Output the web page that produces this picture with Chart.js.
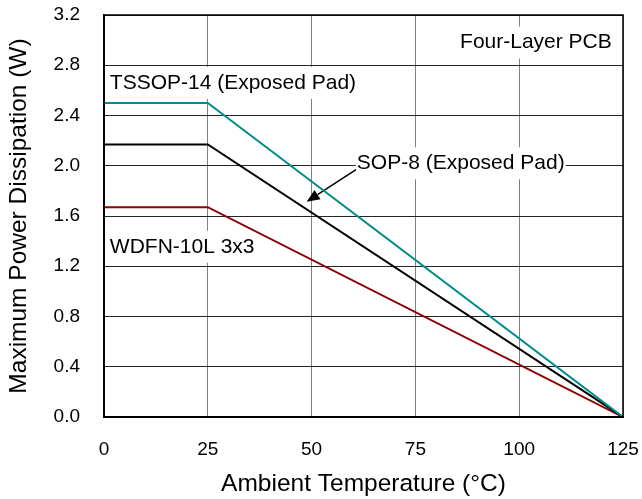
<!DOCTYPE html>
<html>
<head>
<meta charset="utf-8">
<script src="https://cdn.jsdelivr.net/npm/chart.js@4/dist/chart.umd.min.js"></script>
<style>
  html, body { margin: 0; padding: 0; background: #fff; }
  canvas { display: block; }
</style>
</head>
<body>
<canvas id="derating" width="642" height="499"></canvas>
<script>
// ambient temperature (°C) at each break point
const temps = [0, 25, 125];

// maximum power dissipation (W)
const tssop14 = [2.5, 2.5, 0];
const sop8 = [2.17, 2.17, 0];
const wdfn10 = [1.67, 1.67, 0];

const xTicks = [0, 25, 50, 75, 100, 125];
const yTicks = [0, 0.4, 0.8, 1.2, 1.6, 2.0, 2.4, 2.8, 3.2];

const FONT = "'Liberation Sans', Arial, sans-serif";

function points(values) {
    return temps.map((t, i) => ({ x: t, y: values[i] }));
}

// text labels placed in data coordinates
const notes = [
    { text: "Four-Layer PCB", x: 122.3, y: 2.98, align: "right", bg: true },
    { text: "TSSOP-14 (Exposed Pad)", x: 1.4, y: 2.66, align: "left", bg: true },
    { text: "SOP-8 (Exposed Pad)", x: 60.9, y: 2.02, align: "left", bg: true },
    { text: "WDFN-10L 3x3", x: 1.4, y: 1.355, align: "left", bg: true }
];

const arrow = { fromX: 60.7, fromY: 1.97, toX: 48.8, toY: 1.714 };

const notesPlugin = {
    id: "notes",
    beforeDatasetsDraw(chart) {
        const { ctx, scales: { x, y } } = chart;
        ctx.save();
        ctx.font = "21px " + FONT;
        ctx.textBaseline = "middle";
        notes.forEach(n => {
            const px = x.getPixelForValue(n.x);
            const py = y.getPixelForValue(n.y);
            const w = ctx.measureText(n.text).width;
            const left = n.align === "right" ? px - w : px;
            if (n.bg) {
                ctx.fillStyle = "#fff";
                ctx.fillRect(left - 1, py - 16, w + 2, 32);
            }
            ctx.fillStyle = "#000";
            ctx.textAlign = n.align;
            ctx.fillText(n.text, px, py);
        });

        // leader arrow for SOP-8
        const x1 = x.getPixelForValue(arrow.fromX);
        const y1 = y.getPixelForValue(arrow.fromY);
        const x2 = x.getPixelForValue(arrow.toX);
        const y2 = y.getPixelForValue(arrow.toY);
        const ang = Math.atan2(y2 - y1, x2 - x1);
        const len = 13, half = 5.5;
        const bx = x2 - len * Math.cos(ang);
        const by = y2 - len * Math.sin(ang);
        ctx.strokeStyle = "#000";
        ctx.lineWidth = 1.5;
        ctx.beginPath();
        ctx.moveTo(x1, y1);
        ctx.lineTo(bx, by);
        ctx.stroke();
        ctx.fillStyle = "#000";
        ctx.beginPath();
        ctx.moveTo(x2, y2);
        ctx.lineTo(bx + half * Math.sin(ang), by - half * Math.cos(ang));
        ctx.lineTo(bx - half * Math.sin(ang), by + half * Math.cos(ang));
        ctx.closePath();
        ctx.fill();
        ctx.restore();
    },
    afterDraw(chart) {
        const { ctx, chartArea: a } = chart;
        ctx.save();
        ctx.strokeStyle = "#000";
        ctx.lineWidth = 1.5;
        ctx.strokeRect(a.left, a.top, a.right - a.left, a.bottom - a.top);
        ctx.restore();
    }
};

new Chart(document.getElementById("derating"), {
    type: "line",
    data: {
        datasets: [
            { label: "TSSOP-14 (Exposed Pad)", data: points(tssop14), borderColor: "#008c8c" },
            { label: "SOP-8 (Exposed Pad)", data: points(sop8), borderColor: "#000000" },
            { label: "WDFN-10L 3x3", data: points(wdfn10), borderColor: "#8b0000" }
        ]
    },
    options: {
        responsive: false,
        animation: false,
        layout: { padding: { top: 15, right: 19, left: 0, bottom: 0 } },
        elements: {
            line: { borderWidth: 2, tension: 0 },
            point: { radius: 0 }
        },
        plugins: {
            legend: { display: false },
            tooltip: { enabled: false }
        },
        scales: {
            x: {
                type: "linear",
                min: xTicks[0],
                max: xTicks[xTicks.length - 1],
                afterBuildTicks(scale) {
                    scale.ticks = xTicks.map(v => ({ value: v }));
                },
                afterFit(scale) {
                    scale.height = 82;
                    scale.paddingLeft = 0;
                    scale.paddingRight = 0;
                },
                grid: { color: "#808080", lineWidth: 1, drawTicks: false },
                border: { color: "#000", width: 2 },
                ticks: {
                    padding: 21,
                    color: "#000",
                    font: { family: FONT, size: 19 },
                    maxRotation: 0
                },
                title: {
                    display: true,
                    text: "Ambient Temperature (°C)",
                    color: "#000",
                    font: { family: FONT, size: 24.5 },
                    padding: { top: 0, bottom: 0 }
                }
            },
            y: {
                min: yTicks[0],
                max: yTicks[yTicks.length - 1],
                afterBuildTicks(scale) {
                    scale.ticks = yTicks.map(v => ({ value: v }));
                },
                afterFit(scale) {
                    scale.width = 104;
                    scale.paddingTop = 0;
                    scale.paddingBottom = 0;
                },
                grid: { color: "#262626", lineWidth: 1, drawTicks: false },
                border: { color: "#000", width: 2 },
                ticks: {
                    padding: 24,
                    color: "#000",
                    font: { family: FONT, size: 19 },
                    callback: v => v.toFixed(1)
                },
                title: {
                    display: true,
                    text: "Maximum Power Dissipation (W)",
                    color: "#000",
                    font: { family: FONT, size: 24.5 },
                    padding: { top: 5, bottom: 0 }
                }
            }
        }
    },
    plugins: [notesPlugin]
});
</script>
</body>
</html>
